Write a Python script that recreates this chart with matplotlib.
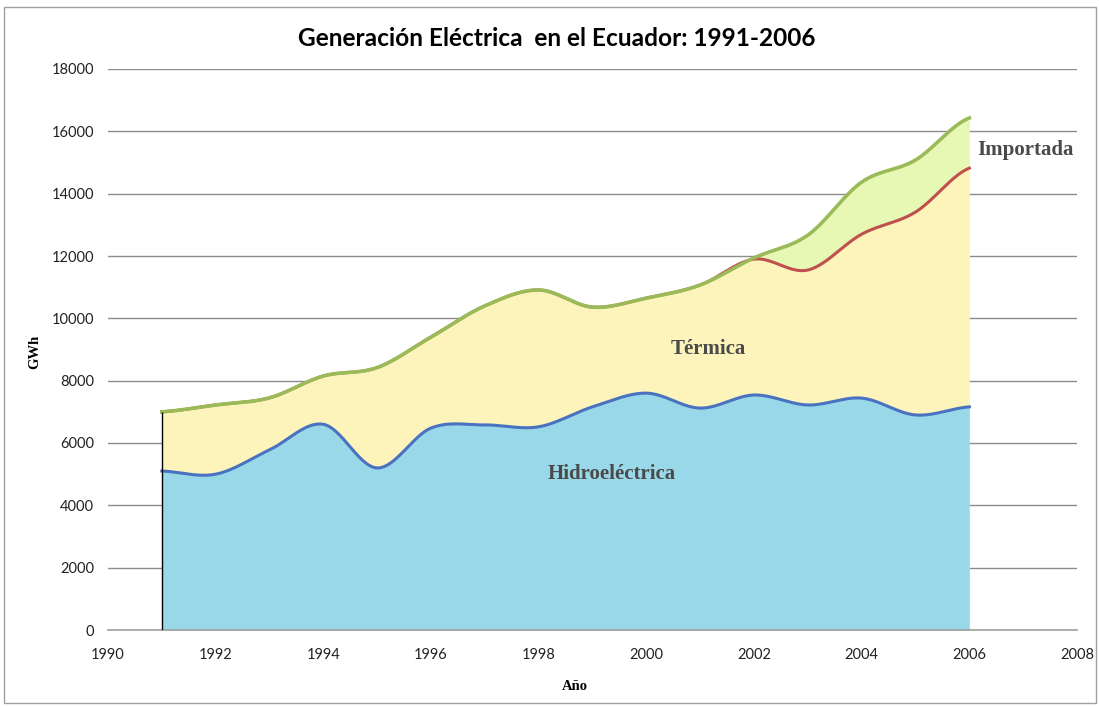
import numpy as np
import matplotlib
matplotlib.use("Agg")
import matplotlib.pyplot as plt
from matplotlib.patches import Rectangle

years = [1991, 1992, 1993, 1994, 1995, 1996, 1997, 1998, 1999, 2000, 2001, 2002, 2003, 2004, 2005, 2006]
hidro = [5100, 5000, 5780, 6600, 5200, 6480, 6580, 6520, 7160, 7600, 7120, 7540, 7220, 7440, 6900, 7160]
termica = [1900, 2220, 1670, 1550, 3220, 2920, 3820, 4390, 3200, 3050, 3950, 4360, 4330, 5260, 6510, 7660]
importada = [0, 0, 0, 0, 0, 0, 0, 0, 0, 0, 0, 40, 1120, 1670, 1670, 1610]

title = "Generación Eléctrica  en el Ecuador: 1991-2006"
x_ticks = [1990, 1992, 1994, 1996, 1998, 2000, 2002, 2004, 2006, 2008]
y_ticks = [0, 2000, 4000, 6000, 8000, 10000, 12000, 14000, 16000, 18000]


def smooth(xs, ys, n=40):
    xs = np.asarray(xs, float)
    ys = np.asarray(ys, float)
    ox, oy = [], []
    m = len(xs)
    for i in range(m - 1):
        y0 = ys[i - 1] if i > 0 else ys[i]
        y3 = ys[i + 2] if i + 2 < m else ys[i + 1]
        p0, p3 = ys[i], ys[i + 1]
        c1 = p0 + (p3 - y0) / 6.0
        c2 = p3 - (y3 - p0) / 6.0
        t = np.linspace(0, 1, n, endpoint=(i == m - 2))
        yy = (1 - t) ** 3 * p0 + 3 * (1 - t) ** 2 * t * c1 + 3 * (1 - t) * t ** 2 * c2 + t ** 3 * p3
        xx = xs[i] + t * (xs[i + 1] - xs[i])
        ox.append(xx)
        oy.append(yy)
    return np.concatenate(ox), np.concatenate(oy)


h = np.array(hidro, float)
ht = h + np.array(termica, float)
tot = ht + np.array(importada, float)

sx, sh = smooth(years, h)
_, sht = smooth(years, ht)
_, stot = smooth(years, tot)

fig = plt.figure(figsize=(10.99, 7.06), dpi=100)
ax = fig.add_axes([108 / 1099, 1 - 630 / 706, (1077 - 108) / 1099, (630 - 69) / 706])

ax.fill_between(sx, 0, sh, color="#99d8e8", lw=0, zorder=2)
ax.fill_between(sx, sh, sht, color="#fcf4bb", lw=0, zorder=2)
ax.fill_between(sx, sht, stot, color="#e6f8b4", lw=0, zorder=2)
ax.plot(sx, sh, color="#4a72c0", lw=2.2, zorder=4)
ax.plot(sx, sht, color="#c0504d", lw=2.2, zorder=3)
ax.plot(sx, stot, color="#9bbb59", lw=2.6, zorder=3.5)
ax.vlines(years[0], 0, tot[0], color="black", lw=1.0, zorder=5)

ax.set_xlim(1990, 2008)
ax.set_ylim(0, 18000)
ax.set_xticks(x_ticks)
ax.set_yticks(y_ticks)
ax.yaxis.grid(True, color="#8c8c8c", lw=1.0, zorder=1)
ax.set_axisbelow(True)
for s in ["left", "right", "top"]:
    ax.spines[s].set_visible(False)
ax.spines["bottom"].set_color("#a0a0a0")
ax.spines["bottom"].set_linewidth(1.2)
ax.tick_params(axis="both", length=0, labelsize=10.5, colors="#222222", pad=10)
ax.tick_params(axis="x", pad=13)
for lab in ax.get_xticklabels() + ax.get_yticklabels():
    lab.set_family(["Lato", "DejaVu Sans"])

serif = ["Liberation Serif", "DejaVu Serif"]
ax.text(1999.35, 5000, "Hidroeléctrica", fontsize=15, fontweight="bold", family=serif,
        color="#4a4a4a", ha="center", va="center", zorder=6)
ax.text(2001.15, 9020, "Térmica", fontsize=15, fontweight="bold", family=serif,
        color="#4a4a4a", ha="center", va="center", zorder=6)
ax.text(2006.15, 15400, "Importada", fontsize=15, fontweight="bold", family=serif,
        color="#4a4a4a", ha="left", va="center", zorder=6)

fig.text(35 / 1099, 1 - 352 / 706, "GWh", rotation=90, fontsize=10.5, fontweight="bold",
         family=serif, ha="center", va="center")
fig.text(575 / 1099, 1 - 686 / 706, "Año", fontsize=10.5, fontweight="bold",
         family=serif, ha="center", va="center")
fig.text(557 / 1099, 1 - 38 / 706, title, fontsize=17.6, fontweight="bold",
         family=["Lato", "DejaVu Sans"], ha="center", va="center")

fig.add_artist(Rectangle((4 / 1099, 3 / 706), 1092 / 1099, 696 / 706, transform=fig.transFigure,
                         fill=False, edgecolor="#a0a0a0", lw=1.0))

fig.savefig("out.png", dpi=100)
